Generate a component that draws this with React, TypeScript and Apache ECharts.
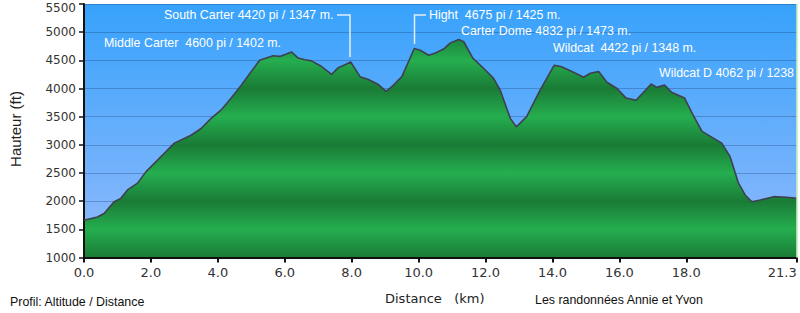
import React, { useEffect, useRef } from "react";
import * as echarts from "echarts";

// Distance along trail (km)
const distances = [
  0.0, 0.4, 0.6, 0.9, 1.1, 1.3, 1.6, 1.85, 2.1, 2.4, 2.7, 3.2, 3.5, 3.8, 4.1, 4.4, 4.7, 5.0,
  5.25, 5.45, 5.65, 5.85, 6.03, 6.2, 6.4, 6.6, 6.8, 7.1, 7.4, 7.6, 7.8, 7.97, 8.25, 8.5, 8.8,
  9.03, 9.25, 9.5, 9.7, 9.87, 10.05, 10.3, 10.5, 10.75, 10.95, 11.2, 11.35, 11.62, 11.94,
  12.24, 12.44, 12.74, 12.92, 13.23, 13.63, 14.05, 14.25, 14.55, 14.93, 15.13, 15.38, 15.63,
  15.93, 16.2, 16.5, 16.95, 17.12, 17.35, 17.57, 17.95, 18.2, 18.47, 18.81, 19.06, 19.31,
  19.56, 19.76, 19.96, 20.21, 20.61, 21.0, 21.3,
];

// Altitude (ft)
const altitudes = [
  1660, 1720, 1780, 1990, 2050, 2200, 2320, 2520, 2670, 2850, 3030, 3170, 3290, 3470, 3620, 3830, 4060, 4300,
  4500, 4540, 4580, 4570, 4610, 4650, 4540, 4510, 4490, 4390, 4250, 4370, 4420, 4470, 4210, 4160, 4070,
  3950, 4060, 4210, 4480, 4710, 4680, 4590, 4630, 4700, 4810, 4870, 4830, 4540, 4360,
  4180, 3970, 3470, 3320, 3500, 3970, 4410, 4390, 4310, 4200, 4270, 4300, 4110,
  4000, 3830, 3790, 4080, 4020, 4060, 3930, 3830, 3530, 3240, 3120, 3030, 2790,
  2320, 2110, 1990, 2020, 2080, 2070, 2050,
];

const xTickValues = [0, 2, 4, 6, 8, 10, 12, 14, 16, 18, 21.3];

const peakLabels = [
  { text: "South Carter 4420 pi / 1347 m.", x: 164, y: 15 },
  { text: "Middle Carter  4600 pi / 1402 m.", x: 104, y: 43 },
  { text: "Hight  4675 pi / 1425 m.", x: 429, y: 15 },
  { text: "Carter Dome 4832 pi / 1473 m.", x: 461, y: 31 },
  { text: "Wildcat  4422 pi / 1348 m.", x: 553, y: 48 },
  { text: "Wildcat D 4062 pi / 1238", x: 659, y: 73 },
];

const leaderLines = [
  [[337, 15], [350, 15], [350, 57]],
  [[426, 15], [414.5, 15], [414.5, 44]],
];

export default function App() {
  const ref = useRef<HTMLDivElement>(null);

  useEffect(() => {
    if (!ref.current) return;
    const chart = echarts.init(ref.current, undefined, { renderer: "svg" });

    const gridTop = 4;
    const gridBottomPx = 257.5;
    const light = "#25ae4f";
    const dark = "#1a7b36";
    const stops: { offset: number; color: string }[] = [];
    for (let i = 0; i <= 9; i++) {
      stops.push({ offset: i / 9, color: i % 2 === 0 ? light : dark });
    }
    const areaGradient = new echarts.graphic.LinearGradient(0, gridTop, 0, gridBottomPx, stops, true);
    const bgGradient = new echarts.graphic.LinearGradient(0, 0, 0, 1, [
      { offset: 0, color: "#37a2fb" },
      { offset: 1, color: "#93bafd" },
    ]);

    const data = distances.map((d, i) => [d, altitudes[i]]);

    const graphics: any[] = [];
    peakLabels.forEach((p) => {
      graphics.push({
        type: "text",
        x: p.x,
        y: p.y,
        z: 10,
        style: {
          text: p.text,
          fill: "#ffffff",
          fontSize: 12.4,
          fontFamily: "Liberation Sans, Arial, sans-serif",
          align: "left",
          verticalAlign: "middle",
        },
      });
    });
    leaderLines.forEach((pts) => {
      graphics.push({
        type: "polyline",
        z: 10,
        shape: { points: pts },
        style: { stroke: "#e4eef8", lineWidth: 1.5, fill: null },
      });
    });
    graphics.push(
      {
        type: "text",
        x: 15,
        y: 129,
        rotation: Math.PI / 2,
        style: {
          text: "Hauteur (ft)",
          fill: "#222",
          fontSize: 15,
          fontFamily: "Liberation Sans, Arial, sans-serif",
          align: "center",
          verticalAlign: "middle",
        },
      },
      {
        type: "text",
        x: 385,
        y: 298,
        style: {
          text: "Distance   (km)",
          fill: "#222",
          fontSize: 13,
          fontFamily: "DejaVu Sans, Verdana, sans-serif",
          align: "left",
          verticalAlign: "middle",
        },
      },
      {
        type: "text",
        x: 10,
        y: 302,
        style: {
          text: "Profil: Altitude / Distance",
          fill: "#111",
          fontSize: 12.4,
          fontFamily: "Liberation Sans, Arial, sans-serif",
          align: "left",
          verticalAlign: "middle",
        },
      },
      {
        type: "text",
        x: 535,
        y: 300,
        style: {
          text: "Les randonnées Annie et Yvon",
          fill: "#111",
          fontSize: 12.4,
          fontFamily: "Liberation Sans, Arial, sans-serif",
          align: "left",
          verticalAlign: "middle",
        },
      }
    );

    const yLabelFont = {
      color: "#333",
      fontSize: 12,
      fontFamily: "DejaVu Sans, Verdana, sans-serif",
    };

    chart.setOption({
      animation: false,
      backgroundColor: "#ffffff",
      grid: {
        left: 84,
        right: 3.3,
        top: gridTop,
        bottom: 313 - gridBottomPx,
        show: true,
        backgroundColor: bgGradient,
        borderWidth: 0,
        containLabel: false,
        outerBoundsMode: "none",
      },
      xAxis: {
        type: "value",
        min: 0,
        max: 21.3,
        z: 4,
        axisLine: { show: true, lineStyle: { color: "#111", width: 2 } },
        axisTick: {
          show: true,
          customValues: xTickValues,
          length: 5,
          lineStyle: { color: "#111", width: 2 },
        },
        axisLabel: {
          customValues: xTickValues,
          formatter: (v: number) => v.toFixed(1),
          alignMaxLabel: "right",
          color: "#333",
          fontSize: 13,
          fontFamily: "DejaVu Sans, Verdana, sans-serif",
          margin: 8,
        },
        splitLine: { show: false },
      },
      yAxis: {
        type: "value",
        min: 1000,
        max: 5500,
        interval: 500,
        z: 3,
        axisLine: { show: true, lineStyle: { color: "#111", width: 2 } },
        axisTick: { show: true, length: 5, lineStyle: { color: "#111", width: 1.5 } },
        axisLabel: {
          formatter: (v: number) => (v === 5500 ? "{top|" + v + "}" : String(v)),
          ...yLabelFont,
          margin: 8,
          rich: {
            top: { ...yLabelFont, padding: [7, 0, 0, 0] },
          },
        },
        splitLine: { show: true, lineStyle: { color: "rgba(20,40,90,0.28)", width: 1 } },
      },
      series: [
        {
          type: "line",
          data,
          showSymbol: false,
          smooth: false,
          lineStyle: { color: "#3d4150", width: 1.6 },
          areaStyle: { color: areaGradient, opacity: 1 },
          markLine: {
            silent: true,
            symbol: "none",
            label: { show: false },
            lineStyle: { color: "#b8efb8", width: 1.5, type: "solid" },
            data: [{ xAxis: 21.3 }],
          },
        },
      ],
      graphic: graphics,
    });

    return () => chart.dispose();
  }, []);

  return (
    <div
      ref={ref}
      style={{ position: "absolute", left: 0, top: 0, width: 800, height: 313 }}
    />
  );
}
